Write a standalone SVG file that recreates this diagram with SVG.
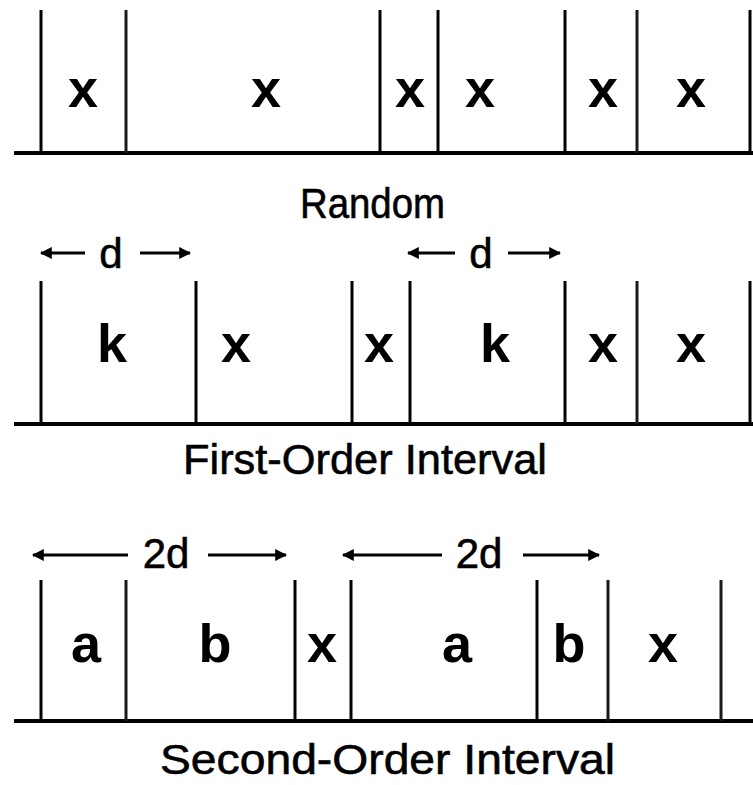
<svg xmlns="http://www.w3.org/2000/svg" width="753" height="785" viewBox="0 0 753 785">
<style>
.base{stroke:#000;stroke-width:4;fill:none}
.v{stroke:#000;stroke-width:3;fill:none}
.vd{stroke:#1a1a1a;stroke-width:3;fill:none}
.arr{stroke:#000;stroke-width:3;fill:none}
.lbl{font-family:"Liberation Sans",Arial,sans-serif;font-weight:bold;font-size:54px;fill:#000;text-anchor:middle}
.dim{font-family:"Liberation Sans",Arial,sans-serif;font-size:42px;fill:#000;stroke:#000;stroke-width:0.6;text-anchor:middle}
.cap{font-family:"Liberation Sans",Arial,sans-serif;font-size:43px;fill:#000;stroke:#000;stroke-width:0.6}
</style>
<defs>
<marker id="ah" viewBox="0 0 10 10" refX="9" refY="5" markerWidth="4" markerHeight="4" orient="auto" markerUnits="strokeWidth">
<path d="M0,0 L10,5 L0,10 z" fill="#000"/>
</marker>
</defs>
<rect width="753" height="785" fill="#fff"/>

<g id="random">
<line class="base" x1="14" y1="153" x2="753" y2="153"/>
<line class="v" x1="41" y1="10" x2="41" y2="153"/>
<line class="vd" x1="126" y1="10" x2="126" y2="153"/>
<line class="v" x1="380" y1="10" x2="380" y2="153"/>
<line class="v" x1="438" y1="10" x2="438" y2="153"/>
<line class="v" x1="565" y1="10" x2="565" y2="153"/>
<line class="vd" x1="637" y1="10" x2="637" y2="153"/>
<line class="v" x1="750" y1="10" x2="750" y2="153"/>
<text class="lbl" x="83" y="107">x</text>
<text class="lbl" x="266" y="107">x</text>
<text class="lbl" x="410" y="107">x</text>
<text class="lbl" x="480" y="107">x</text>
<text class="lbl" x="603" y="107">x</text>
<text class="lbl" x="691" y="107">x</text>
<text class="cap" x="300" y="218" textLength="145" lengthAdjust="spacingAndGlyphs">Random</text>
</g>

<g id="first-order">
<line class="base" x1="14" y1="424" x2="753" y2="424"/>
<line class="v" x1="41" y1="281" x2="41" y2="424"/>
<line class="v" x1="196" y1="281" x2="196" y2="424"/>
<line class="v" x1="352" y1="281" x2="352" y2="424"/>
<line class="v" x1="410" y1="281" x2="410" y2="424"/>
<line class="v" x1="565" y1="281" x2="565" y2="424"/>
<line class="vd" x1="637" y1="281" x2="637" y2="424"/>
<line class="v" x1="750" y1="281" x2="750" y2="424"/>
<text class="lbl" x="112" y="362">k</text>
<text class="lbl" x="236" y="362">x</text>
<text class="lbl" x="379" y="362">x</text>
<text class="lbl" x="495" y="362">k</text>
<text class="lbl" x="603" y="362">x</text>
<text class="lbl" x="691" y="362">x</text>
<text class="cap" x="183" y="474" textLength="364" lengthAdjust="spacingAndGlyphs">First-Order Interval</text>
</g>

<g id="second-order">
<line class="base" x1="14" y1="721" x2="753" y2="721"/>
<line class="v" x1="41" y1="580" x2="41" y2="721"/>
<line class="vd" x1="126" y1="580" x2="126" y2="721"/>
<line class="v" x1="295" y1="580" x2="295" y2="721"/>
<line class="v" x1="351" y1="580" x2="351" y2="721"/>
<line class="v" x1="537" y1="580" x2="537" y2="721"/>
<line class="vd" x1="608" y1="580" x2="608" y2="721"/>
<line class="vd" x1="721" y1="580" x2="721" y2="721"/>
<text class="lbl" x="86" y="662">a</text>
<text class="lbl" x="215" y="662">b</text>
<text class="lbl" x="322" y="662">x</text>
<text class="lbl" x="457" y="662">a</text>
<text class="lbl" x="569" y="662">b</text>
<text class="lbl" x="663" y="662">x</text>
<text class="cap" x="160" y="774" textLength="455" lengthAdjust="spacingAndGlyphs">Second-Order Interval</text>
</g>

<g id="dimensions">
<line class="arr" x1="85" y1="253" x2="41" y2="253" marker-end="url(#ah)"/>
<line class="arr" x1="140" y1="253" x2="190" y2="253" marker-end="url(#ah)"/>
<text class="dim" x="111" y="268">d</text>
<line class="arr" x1="455" y1="253" x2="408" y2="253" marker-end="url(#ah)"/>
<line class="arr" x1="508" y1="253" x2="560" y2="253" marker-end="url(#ah)"/>
<text class="dim" x="481" y="268">d</text>
<line class="arr" x1="128" y1="555" x2="33" y2="555" marker-end="url(#ah)"/>
<line class="arr" x1="208" y1="555" x2="286" y2="555" marker-end="url(#ah)"/>
<text class="dim" x="166" y="568">2d</text>
<line class="arr" x1="442" y1="555" x2="343" y2="555" marker-end="url(#ah)"/>
<line class="arr" x1="523" y1="555" x2="599" y2="555" marker-end="url(#ah)"/>
<text class="dim" x="479" y="568">2d</text>
</g>
</svg>
